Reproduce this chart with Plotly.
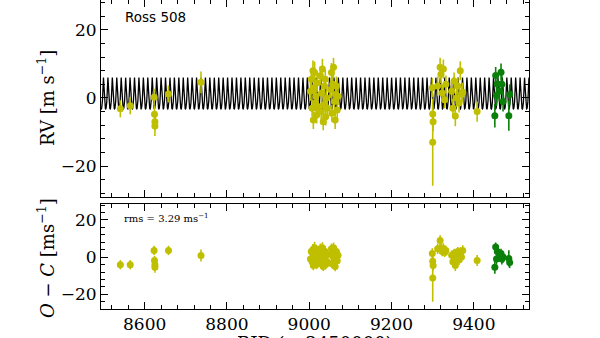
import numpy as np
import plotly.graph_objects as go

# ---------------- data ----------------
yellow_t = [8541, 8565, 8623, 8624, 8625, 8625, 8658, 8737,
            9003, 9005, 9007, 9009, 9010, 9012, 9013, 9015, 9016, 9018, 9019, 9021,
            9027, 9029, 9030, 9032, 9034, 9035, 9037, 9039, 9040, 9042, 9044,
            9052, 9054, 9055, 9057, 9059, 9061, 9063, 9064, 9066, 9068, 9070,
            9299, 9300, 9301, 9300,
            9312, 9318, 9320, 9323, 9326, 9329, 9332,
            9346, 9349, 9352, 9355, 9358, 9361, 9364, 9367, 9370, 9373,
            9408, 9410]
yellow_rv = [-3.2, -2.3, 0.2, -4.8, -7.0, -8.2, 1.2, 4.6,
             2.0, 5.5, -3.0, 8.0, -6.5, 3.0, 7.5, -1.5, 0.5, -5.0, 4.5, -2.5,
             6.5, -4.0, 1.5, 8.5, -7.0, -2.0, 3.5, 5.5, -5.5, 0.0, -3.0,
             2.5, 7.5, -4.5, 4.0, 9.0, -1.0, -6.5, 1.0, 3.5, -3.5, 0.5,
             3.0, -4.7, -7.0, -13.0,
             3.5, 9.0, 7.0, 1.5, 8.5, -0.5, 4.0,
             2.0, -3.0, 5.0, -5.3, 0.0, 3.5, -1.5, 8.0, 1.0,
             1.7, -4.0]
yellow_err = [2.5, 2.5, 2.5, 2.5, 2.5, 3.0, 2.5, 3.2,
              2.8, 2.6, 2.5, 3.0, 2.6, 2.5, 3.2, 2.5, 2.6, 2.5, 2.8, 2.5,
              2.8, 2.6, 2.5, 3.0, 2.5, 2.6, 2.5, 2.8, 2.6, 2.5, 2.5,
              2.6, 2.8, 2.5, 2.6, 2.8, 2.5, 2.6, 2.5, 2.8, 2.5, 2.6,
              2.8, 2.8, 2.8, 12.8,
              2.8, 2.8, 2.6, 2.5, 2.8, 2.5, 2.6,
              2.6, 2.8, 2.5, 3.0, 2.6, 2.5, 2.8, 2.8, 2.6,
              2.8, 3.0]
yellow_oc = [-4.1, -4.1, 3.6, -1.8, -4.1, -5.4, 3.6, 0.9,
             -1.0, 3.0, -2.5, 4.0, -4.5, 1.5, 5.0, -3.0, 0.5, -4.0, 2.5, -1.5,
             4.5, -3.5, 0.0, 5.0, -5.0, -1.5, 2.0, 3.0, -4.0, 1.0, -2.5,
             1.5, 4.5, -3.5, 2.5, 5.0, -1.0, -5.0, 0.0, 3.0, -2.0, 1.0,
             2.0, -2.2, -4.5, -11.2,
             4.5, 9.0, 5.0, 3.0, 4.7, 2.5, 3.5,
             1.0, -2.5, 2.0, -4.5, 0.5, 3.0, -1.5, 2.5, 0.0,
             3.6, -1.8]

green_t = [9451, 9453, 9455, 9457, 9462, 9466, 9468, 9471, 9485, 9487]
green_rv = [-5.2, 6.6, 0.7, 4.1, 2.0, 7.6, 4.0, -1.0, -5.2, 1.0]
green_err = [3.5, 2.5, 3.0, 3.0, 3.0, 2.5, 3.0, 3.0, 4.4, 3.0]
green_oc = [-5.4, 5.4, -1.0, 3.0, 0.5, 2.0, -1.0, 0.0, -0.7, -2.9]

# Keplerian model parameters (fit)
P_orb = 10.77
K_amp = 4.6
ecc = 0.30
omega = 0.0
T_peri = 8500.0
gamma = 0.0

x_range = [8494, 9534]
y_range_rv = [-29.1, 28.8]
y_range_oc = [-27.9, 28.6]
x_tickvals = [8600, 8800, 9000, 9200, 9400]

# ---------------- model curve ----------------
t_model = np.arange(x_range[0], x_range[1], 0.1)
M = 2 * np.pi * (t_model - T_peri) / P_orb
E = M.copy()
for _ in range(30):
    E = E - (E - ecc * np.sin(E) - M) / (1 - ecc * np.cos(E))
nu = 2 * np.arctan2(np.sqrt(1 + ecc) * np.sin(E / 2), np.sqrt(1 - ecc) * np.cos(E / 2))
rv_model = gamma + K_amp * (np.cos(nu + omega) + ecc * np.cos(omega))

YEL = "#bfbf00"
GRN = "#0a800a"

fig = go.Figure()
fig.add_trace(go.Scatter(x=t_model, y=rv_model, mode="lines",
                         line=dict(color="black", width=1.3),
                         xaxis="x", yaxis="y", showlegend=False, hoverinfo="skip"))

def pts(t, v, err, col, xa, ya):
    return go.Scatter(x=t, y=v, mode="markers",
                      marker=dict(color=col, size=7, line=dict(width=0)),
                      error_y=dict(type="data", array=err, color=col, thickness=1.6, width=0),
                      xaxis=xa, yaxis=ya, showlegend=False)

fig.add_trace(pts(yellow_t, yellow_rv, yellow_err, YEL, "x", "y"))
fig.add_trace(pts(green_t, green_rv, green_err, GRN, "x", "y"))
fig.add_trace(pts(yellow_t, yellow_oc, yellow_err, YEL, "x2", "y2"))
fig.add_trace(pts(green_t, green_oc, green_err, GRN, "x2", "y2"))

serif = "DejaVu Serif"
common_x = dict(range=x_range, tickvals=x_tickvals, ticks="inside", ticklen=7, tickwidth=1,
                tickcolor="black", showline=True, linecolor="black", linewidth=1,
                mirror="allticks", showgrid=False, zeroline=False,
                minor=dict(dtick=40, tick0=8600, ticks="inside", ticklen=4, tickcolor="black", showgrid=False),
                tickfont=dict(family=serif, size=17, color="black"))
common_y = dict(dtick=20, tick0=0, ticks="inside", ticklen=7, tickwidth=1,
                tickcolor="black", showline=True, linecolor="black", linewidth=1,
                mirror="allticks", showgrid=False, zeroline=False,
                minor=dict(dtick=4, tick0=0, ticks="inside", ticklen=4, tickcolor="black", showgrid=False),
                tickfont=dict(family=serif, size=17, color="black"))

fig.update_layout(
    width=600, height=338,
    margin=dict(l=101, r=71, t=0, b=29),
    paper_bgcolor="white", plot_bgcolor="white",
    xaxis=dict(**common_x, anchor="y", matches="x2", showticklabels=False),
    yaxis=dict(**common_y, range=y_range_rv, domain=[0.3625, 1.0], anchor="x"),
    xaxis2=dict(**common_x, anchor="y2"),
    yaxis2=dict(**common_y, range=y_range_oc, domain=[0.0, 0.34], anchor="x2"),
    annotations=[
        dict(text="Ross 508", xref="paper", yref="paper", x=0.051, y=(309 - 17) / 309,
             xanchor="left", yanchor="middle", showarrow=False,
             font=dict(family="DejaVu Sans", size=13.5, color="black")),
        dict(text="rms = 3.29 ms<sup>−1</sup>", xref="paper", yref="paper", x=0.049, y=(309 - 218) / 309,
             xanchor="left", yanchor="middle", showarrow=False,
             font=dict(family=serif, size=10, color="black")),
        dict(text="RV [m s<sup>−1</sup>]", xref="paper", yref="paper", x=(46 - 101) / 428, y=(309 - 98) / 309,
             xanchor="center", yanchor="middle", textangle=-90, showarrow=False,
             font=dict(family=serif, size=18, color="black")),
        dict(text="<i>O</i> − <i>C</i> [ms<sup>−1</sup>]", xref="paper", yref="paper", x=(46 - 101) / 428,
             y=(309 - 258) / 309, xanchor="center", yanchor="middle", textangle=-90, showarrow=False,
             font=dict(family=serif, size=18, color="black")),
        dict(text="BJD (− 2450000)", xref="paper", yref="paper", x=0.5, y=-(331 - 309) / 309,
             xanchor="center", yanchor="top", showarrow=False,
             font=dict(family=serif, size=18, color="black")),
    ],
)

fig.write_html("out.html",
               config={"displayModeBar": False},
               post_script="document.body.style.margin='0px';document.body.style.overflow='hidden';")
